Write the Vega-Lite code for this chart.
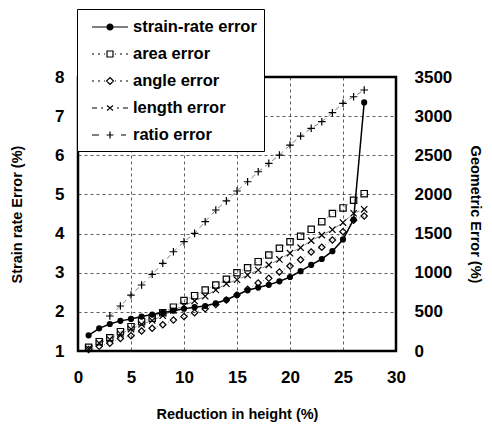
{
  "$schema": "https://vega.github.io/schema/vega-lite/v6.json",
  "width": 318,
  "height": 274,
  "autosize": {"type": "none"},
  "padding": {"left": 78, "top": 77, "right": 96, "bottom": 81},
  "config": {
    "view": {"stroke": "black", "strokeWidth": 2.5},
    "font": "Liberation Sans",
    "axis": {
      "labelFont": "Liberation Sans",
      "labelFontSize": 17,
      "labelFontWeight": "bold",
      "labelColor": "black",
      "titleFont": "Liberation Sans",
      "titleFontSize": 14.5,
      "titleFontWeight": "bold",
      "titleColor": "black",
      "domainColor": "black",
      "tickColor": "black",
      "gridColor": "black",
      "gridDash": [3, 3],
      "gridOpacity": 0.8,
      "gridWidth": 0.8
    }
  },
  "datasets": {
    "strain": [
      {"x": 1, "series": "strain-rate error", "value": 1.4},
      {"x": 2, "series": "strain-rate error", "value": 1.58},
      {"x": 3, "series": "strain-rate error", "value": 1.69},
      {"x": 4, "series": "strain-rate error", "value": 1.77},
      {"x": 5, "series": "strain-rate error", "value": 1.82},
      {"x": 6, "series": "strain-rate error", "value": 1.88},
      {"x": 7, "series": "strain-rate error", "value": 1.93},
      {"x": 8, "series": "strain-rate error", "value": 1.98},
      {"x": 9, "series": "strain-rate error", "value": 2.03},
      {"x": 10, "series": "strain-rate error", "value": 2.08},
      {"x": 11, "series": "strain-rate error", "value": 2.12},
      {"x": 12, "series": "strain-rate error", "value": 2.15},
      {"x": 13, "series": "strain-rate error", "value": 2.22},
      {"x": 14, "series": "strain-rate error", "value": 2.31},
      {"x": 15, "series": "strain-rate error", "value": 2.43},
      {"x": 16, "series": "strain-rate error", "value": 2.55},
      {"x": 17, "series": "strain-rate error", "value": 2.62},
      {"x": 18, "series": "strain-rate error", "value": 2.69},
      {"x": 19, "series": "strain-rate error", "value": 2.78},
      {"x": 20, "series": "strain-rate error", "value": 2.89},
      {"x": 21, "series": "strain-rate error", "value": 3.04},
      {"x": 22, "series": "strain-rate error", "value": 3.2},
      {"x": 23, "series": "strain-rate error", "value": 3.35},
      {"x": 24, "series": "strain-rate error", "value": 3.55},
      {"x": 25, "series": "strain-rate error", "value": 3.85},
      {"x": 26, "series": "strain-rate error", "value": 4.36},
      {"x": 27, "series": "strain-rate error", "value": 7.35}
    ],
    "geo": [
      {"x": 1, "series": "area error", "value": 47},
      {"x": 2, "series": "area error", "value": 119},
      {"x": 3, "series": "area error", "value": 170},
      {"x": 4, "series": "area error", "value": 247},
      {"x": 5, "series": "area error", "value": 311},
      {"x": 6, "series": "area error", "value": 375},
      {"x": 7, "series": "area error", "value": 420},
      {"x": 8, "series": "area error", "value": 490},
      {"x": 9, "series": "area error", "value": 560},
      {"x": 10, "series": "area error", "value": 645},
      {"x": 11, "series": "area error", "value": 707},
      {"x": 12, "series": "area error", "value": 779},
      {"x": 13, "series": "area error", "value": 843},
      {"x": 14, "series": "area error", "value": 916},
      {"x": 15, "series": "area error", "value": 1000},
      {"x": 16, "series": "area error", "value": 1064},
      {"x": 17, "series": "area error", "value": 1141},
      {"x": 18, "series": "area error", "value": 1226},
      {"x": 19, "series": "area error", "value": 1312},
      {"x": 20, "series": "area error", "value": 1396},
      {"x": 21, "series": "area error", "value": 1465},
      {"x": 22, "series": "area error", "value": 1554},
      {"x": 23, "series": "area error", "value": 1652},
      {"x": 24, "series": "area error", "value": 1755},
      {"x": 25, "series": "area error", "value": 1828},
      {"x": 26, "series": "area error", "value": 1925},
      {"x": 27, "series": "area error", "value": 2010},
      {"x": 1, "series": "angle error", "value": 20},
      {"x": 2, "series": "angle error", "value": 60},
      {"x": 3, "series": "angle error", "value": 100},
      {"x": 4, "series": "angle error", "value": 160},
      {"x": 5, "series": "angle error", "value": 195},
      {"x": 6, "series": "angle error", "value": 255},
      {"x": 7, "series": "angle error", "value": 290},
      {"x": 8, "series": "angle error", "value": 335},
      {"x": 9, "series": "angle error", "value": 395},
      {"x": 10, "series": "angle error", "value": 440},
      {"x": 11, "series": "angle error", "value": 490},
      {"x": 12, "series": "angle error", "value": 540},
      {"x": 13, "series": "angle error", "value": 595},
      {"x": 14, "series": "angle error", "value": 650},
      {"x": 15, "series": "angle error", "value": 715},
      {"x": 16, "series": "angle error", "value": 788},
      {"x": 17, "series": "angle error", "value": 870},
      {"x": 18, "series": "angle error", "value": 928},
      {"x": 19, "series": "angle error", "value": 1010},
      {"x": 20, "series": "angle error", "value": 1086},
      {"x": 21, "series": "angle error", "value": 1165},
      {"x": 22, "series": "angle error", "value": 1265},
      {"x": 23, "series": "angle error", "value": 1325},
      {"x": 24, "series": "angle error", "value": 1418},
      {"x": 25, "series": "angle error", "value": 1524},
      {"x": 26, "series": "angle error", "value": 1670},
      {"x": 27, "series": "angle error", "value": 1724},
      {"x": 1, "series": "length error", "value": 30},
      {"x": 2, "series": "length error", "value": 100},
      {"x": 3, "series": "length error", "value": 150},
      {"x": 4, "series": "length error", "value": 220},
      {"x": 5, "series": "length error", "value": 280},
      {"x": 6, "series": "length error", "value": 340},
      {"x": 7, "series": "length error", "value": 390},
      {"x": 8, "series": "length error", "value": 450},
      {"x": 9, "series": "length error", "value": 520},
      {"x": 10, "series": "length error", "value": 580},
      {"x": 11, "series": "length error", "value": 640},
      {"x": 12, "series": "length error", "value": 700},
      {"x": 13, "series": "length error", "value": 780},
      {"x": 14, "series": "length error", "value": 860},
      {"x": 15, "series": "length error", "value": 910},
      {"x": 16, "series": "length error", "value": 970},
      {"x": 17, "series": "length error", "value": 1035},
      {"x": 18, "series": "length error", "value": 1100},
      {"x": 19, "series": "length error", "value": 1170},
      {"x": 20, "series": "length error", "value": 1250},
      {"x": 21, "series": "length error", "value": 1320},
      {"x": 22, "series": "length error", "value": 1410},
      {"x": 23, "series": "length error", "value": 1480},
      {"x": 24, "series": "length error", "value": 1550},
      {"x": 25, "series": "length error", "value": 1640},
      {"x": 26, "series": "length error", "value": 1760},
      {"x": 27, "series": "length error", "value": 1810},
      {"x": 3, "series": "ratio error", "value": 447},
      {"x": 4, "series": "ratio error", "value": 575},
      {"x": 5, "series": "ratio error", "value": 715},
      {"x": 6, "series": "ratio error", "value": 843},
      {"x": 7, "series": "ratio error", "value": 980},
      {"x": 8, "series": "ratio error", "value": 1120},
      {"x": 9, "series": "ratio error", "value": 1268},
      {"x": 10, "series": "ratio error", "value": 1396},
      {"x": 11, "series": "ratio error", "value": 1503},
      {"x": 12, "series": "ratio error", "value": 1652},
      {"x": 13, "series": "ratio error", "value": 1801},
      {"x": 14, "series": "ratio error", "value": 1918},
      {"x": 15, "series": "ratio error", "value": 2044},
      {"x": 16, "series": "ratio error", "value": 2162},
      {"x": 17, "series": "ratio error", "value": 2290},
      {"x": 18, "series": "ratio error", "value": 2397},
      {"x": 19, "series": "ratio error", "value": 2503},
      {"x": 20, "series": "ratio error", "value": 2631},
      {"x": 21, "series": "ratio error", "value": 2746},
      {"x": 22, "series": "ratio error", "value": 2845},
      {"x": 23, "series": "ratio error", "value": 2929},
      {"x": 24, "series": "ratio error", "value": 3044},
      {"x": 25, "series": "ratio error", "value": 3164},
      {"x": 26, "series": "ratio error", "value": 3248},
      {"x": 27, "series": "ratio error", "value": 3334}
    ]
  },
  "layer": [
    {
      "data": {"name": "geo"},
      "encoding": {
        "x": {
          "field": "x",
          "type": "quantitative",
          "scale": {"domain": [0, 30]},
          "axis": {
            "title": "Reduction in height (%)",
            "values": [0, 5, 10, 15, 20, 25, 30],
            "grid": true,
            "ticks": false,
            "domain": false,
            "labelFlush": false,
            "labelPadding": 18,
            "titlePadding": 22
          }
        },
        "y": {
          "field": "value",
          "type": "quantitative",
          "scale": {"domain": [0, 3500]},
          "axis": {
            "orient": "right",
            "title": "Geometric Error (%)",
            "format": "d",
            "values": [0, 500, 1000, 1500, 2000, 2500, 3000, 3500],
            "grid": false,
            "ticks": false,
            "domain": false,
            "labelPadding": 18,
            "titlePadding": 16
          }
        }
      },
      "layer": [
        {
          "mark": {"type": "line", "color": "black", "strokeWidth": 1},
          "encoding": {
            "strokeDash": {
              "field": "series",
              "type": "nominal",
              "scale": {
                "domain": ["area error", "angle error", "length error", "ratio error"],
                "range": [[1, 3], [1, 3], [5, 3, 1, 3], [5, 4]]
              },
              "legend": null
            },
            "strokeOpacity": {
              "field": "series",
              "type": "nominal",
              "scale": {
                "domain": ["area error", "angle error", "length error", "ratio error"],
                "range": [0.5, 0.5, 0.8, 1]
              },
              "legend": null
            }
          }
        },
        {
          "mark": {"type": "point", "color": "black", "strokeWidth": 1.2, "size": 40, "opacity": 1},
          "encoding": {
            "shape": {
              "field": "series",
              "type": "nominal",
              "scale": {
                "domain": ["area error", "angle error", "length error", "ratio error"],
                "range": ["square", "diamond", "M-1,-1L1,1M-1,1L1,-1", "M-1.2,0H1.2M0,-1.2V1.2"]
              },
              "legend": null
            }
          }
        }
      ]
    },
    {
      "data": {"name": "strain"},
      "encoding": {
        "x": {
          "field": "x",
          "type": "quantitative",
          "scale": {"domain": [0, 30]},
          "axis": {
            "title": "Reduction in height (%)",
            "values": [0, 5, 10, 15, 20, 25, 30],
            "grid": true,
            "ticks": false,
            "domain": false,
            "labelFlush": false,
            "labelPadding": 18,
            "titlePadding": 22
          }
        },
        "y": {
          "field": "value",
          "type": "quantitative",
          "scale": {"domain": [1, 8]},
          "axis": {
            "title": "Strain rate Error (%)",
            "values": [1, 2, 3, 4, 5, 6, 7, 8],
            "grid": true,
            "ticks": false,
            "domain": false,
            "labelPadding": 14,
            "titlePadding": 30
          }
        }
      },
      "layer": [
        {"mark": {"type": "line", "color": "black", "strokeWidth": 1.5}},
        {"mark": {"type": "point", "filled": true, "color": "black", "size": 38, "opacity": 1}},
        {
          "mark": {"type": "point", "filled": false, "color": "black", "strokeWidth": 1.2, "opacity": 0, "size": 400},
          "encoding": {
            "shape": {
              "field": "series",
              "type": "nominal",
              "scale": {
                "domain": ["strain-rate error", "area error", "angle error", "length error", "ratio error"],
                "range": [
                  "M-1.8,0H1.8M-0.3,0A0.3,0.3 0 1 1 0.3,0A0.3,0.3 0 1 1 -0.3,0M-0.18,0A0.18,0.18 0 1 1 0.18,0A0.18,0.18 0 1 1 -0.18,0M-0.07,0A0.07,0.07 0 1 1 0.07,0A0.07,0.07 0 1 1 -0.07,0",
                  "M-1.8,0H-1.6M-1.2,0H-1M-0.6,0H-0.5M0.5,0H0.6M1,0H1.2M1.6,0H1.8M-0.3,-0.3H0.3V0.3H-0.3Z",
                  "M-1.8,0H-1.6M-1.2,0H-1M-0.6,0H-0.5M0.5,0H0.6M1,0H1.2M1.6,0H1.8M0,-0.35L0.35,0L0,0.35L-0.35,0Z",
                  "M-1.8,0H-1.3M-0.9,0H-0.7M-0.3,-0.25L0.3,0.25M-0.3,0.25L0.3,-0.25M0.7,0H0.9M1.3,0H1.8",
                  "M-1.8,0H-1.1M-0.35,0H0.35M0,-0.35V0.35M1.1,0H1.6"
                ]
              },
              "legend": {
                "title": null,
                "orient": "none",
                "legendX": -1,
                "legendY": -68,
                "strokeColor": "black",
                "fillColor": "white",
                "padding": 7,
                "symbolOffset": 15,
                "labelOffset": 12,
                "rowPadding": 7,
                "symbolSize": 400,
                "symbolOpacity": 1,
                "symbolStrokeColor": "black",
                "symbolFillColor": "white",
                "symbolStrokeWidth": 1.2,
                "labelFont": "Liberation Sans",
                "labelFontSize": 16.5,
                "labelFontWeight": "bold",
                "labelColor": "black",
                "labelLimit": 300,
                "encode": {
                  "symbols": {
                    "update": {
                      "opacity": {"value": 1},
                      "stroke": {"value": "black"},
                      "fill": {"value": "white"},
                      "strokeWidth": {"value": 1.2}
                    }
                  }
                }
              }
            }
          }
        }
      ]
    }
  ],
  "resolve": {"scale": {"y": "independent", "shape": "independent"}}
}
